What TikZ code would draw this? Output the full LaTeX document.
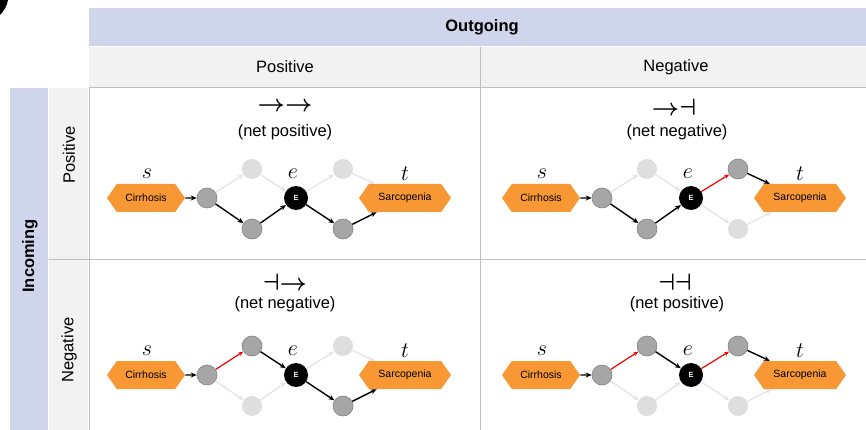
\RequirePackage{fix-cm}
\documentclass[tikz,border=0pt]{standalone}
\usepackage{fontspec}
\setmainfont{Liberation Sans}
\usetikzlibrary{shapes.symbols,arrows.meta}

\definecolor{hdrblue}{RGB}{207,213,234}
\definecolor{hdrgray}{RGB}{242,242,242}
\definecolor{gridline}{RGB}{191,191,191}
\definecolor{hexorange}{RGB}{248,152,52}
\definecolor{nodegray}{RGB}{166,166,166}
\definecolor{nodeedge}{RGB}{130,130,130}
\definecolor{dimgray}{RGB}{222,222,222}
\definecolor{dimline}{RGB}{228,228,228}

\tikzset{
  hexa/.style={shape=signal, signal to=east and west, signal pointer angle=110,
    fill=hexorange, minimum height=28pt, inner sep=0pt,
    font=\fontsize{10.5}{12}\selectfont},
  cirr/.style={hexa, minimum width=78pt},
  sarc/.style={hexa, minimum width=92pt},
  live/.style={circle, minimum size=20pt, inner sep=0pt, fill=nodegray,
    draw=nodeedge, line width=0.6pt},
  dim/.style={circle, minimum size=20pt, inner sep=0pt, fill=dimgray},
  hub/.style={circle, minimum size=24pt, inner sep=0pt, fill=black, text=white,
    font=\fontsize{7.5}{8}\selectfont},
  act/.style={line width=1.4pt, -{Stealth[length=6pt,width=5pt]}},
  inh/.style={line width=1.2pt, red, -{Stealth[length=5pt,width=4pt]}},
  off/.style={line width=1.3pt, dimline, -{Stealth[length=6pt,width=5pt]}},
  varlabel/.style={font=\fontsize{17}{18}\selectfont, scale=1.3},
  signs/.style={font=\fontsize{17}{18}\selectfont\boldmath, scale=1.4},
  nettext/.style={font=\fontsize{16.5}{18}\selectfont},
  hdr/.style={font=\fontsize{16.5}{18}\selectfont},
  hdrbold/.style={font=\fontsize{16.5}{18}\selectfont\bfseries},
}

% nodes of one path diagram: #1 u1, #2 l1, #3 u2, #4 l2 styles
\newcommand\netnodes[4]{%
  \node[cirr] (c) at (0,0) {Cirrhosis};
  \node[live] (n1) at (61,0) {};
  \node[#1] (u1) at (106,-29) {};
  \node[#2] (l1) at (106,31) {};
  \node[hub] (E) at (150,0) {\textbf{E}};
  \node[#3] (u2) at (197,-29) {};
  \node[#4] (l2) at (197,31) {};
  \node[sarc] (sk) at (259,0) {Sarcopenia};
  \node[varlabel] (ls) at (1,-24) {$s$};
  \node[varlabel] (le) at (147,-24) {$e$};
  \node[varlabel] (lt) at (259,-24) {$t$};
}

\begin{document}
\begin{tikzpicture}[x=1pt,y=-1pt]
\useasboundingbox (0,0) rectangle (866,430);

% corner fragment
\fill[black] (0,0) -- (8,0) .. controls (7,6) and (4,11) .. (0,15) -- cycle;

% header bands
\fill[hdrblue] (89,8) rectangle (866,46);
\fill[hdrgray] (89,47) rectangle (866,87);
\fill[hdrblue] (10,88) rectangle (48,430);
\fill[hdrgray] (49,88) rectangle (88,430);

% grid
\draw[gridline, line width=0.8pt] (89,87.5) -- (866,87.5);
\draw[gridline, line width=0.8pt] (89,87.5) -- (89,430);
\draw[gridline, line width=0.8pt] (480,47) -- (480,430);
\draw[gridline, line width=0.8pt] (49,259) -- (866,259);

% header texts
\node[hdrbold] (hout) at (482,27) {Outgoing};
\node[hdr] (hop) at (285,67) {Positive};
\node[hdr] (hon) at (676,67) {Negative};
\node[hdrbold, rotate=90] (hin) at (30,256) {Incoming};
\node[hdr, rotate=90] (hip) at (69,155) {Positive};
\node[hdr, rotate=90] (hin2) at (69,350) {Negative};

% cell titles
\node[signs] (sg1) at (285,107) {$\rightarrow\rightarrow$};
\node[nettext] (nt1) at (285,132) {(net positive)};
\node[signs] (sg2) at (674,107) {$\rightarrow\dashv$};
\node[nettext] (nt2) at (677,132) {(net negative)};
\node[signs] (sg3) at (285,282) {$\dashv\rightarrow$};
\node[nettext] (nt3) at (285,304) {(net negative)};
\node[signs] (sg4) at (675,282) {$\dashv\dashv$};
\node[nettext] (nt4) at (677,304) {(net positive)};

% positive -> positive
\begin{scope}[shift={(146,198)}, name prefix=pp-]
  \netnodes{dim}{live}{dim}{live}
  \draw[off] (n1) -- (u1); \draw[off] (u1) -- (E);
  \draw[off] (E) -- (u2);  \draw[off] (u2) -- (sk);
  \draw[act] (c) -- (n1);
  \draw[act] (n1) -- (l1); \draw[act] (l1) -- (E);
  \draw[act] (E) -- (l2);  \draw[act] (l2) -- (sk);
\end{scope}

% positive -> negative
\begin{scope}[shift={(541,198)}, name prefix=pn-]
  \netnodes{dim}{live}{live}{dim}
  \draw[off] (n1) -- (u1); \draw[off] (u1) -- (E);
  \draw[off] (E) -- (l2);  \draw[off] (l2) -- (sk);
  \draw[act] (c) -- (n1);
  \draw[act] (n1) -- (l1); \draw[act] (l1) -- (E);
  \draw[inh] (E) -- (u2);  \draw[act] (u2) -- (sk);
\end{scope}

% negative -> positive
\begin{scope}[shift={(146,375)}, name prefix=np-]
  \netnodes{live}{dim}{dim}{live}
  \draw[off] (n1) -- (l1); \draw[off] (l1) -- (E);
  \draw[off] (E) -- (u2);  \draw[off] (u2) -- (sk);
  \draw[act] (c) -- (n1);
  \draw[inh] (n1) -- (u1); \draw[act] (u1) -- (E);
  \draw[act] (E) -- (l2);  \draw[act] (l2) -- (sk);
\end{scope}

% negative -> negative
\begin{scope}[shift={(541,375)}, name prefix=nn-]
  \netnodes{live}{dim}{live}{dim}
  \draw[off] (n1) -- (l1); \draw[off] (l1) -- (E);
  \draw[off] (E) -- (l2);  \draw[off] (l2) -- (sk);
  \draw[act] (c) -- (n1);
  \draw[inh] (n1) -- (u1); \draw[act] (u1) -- (E);
  \draw[inh] (E) -- (u2);  \draw[act] (u2) -- (sk);
\end{scope}
\end{tikzpicture}
\end{document}
